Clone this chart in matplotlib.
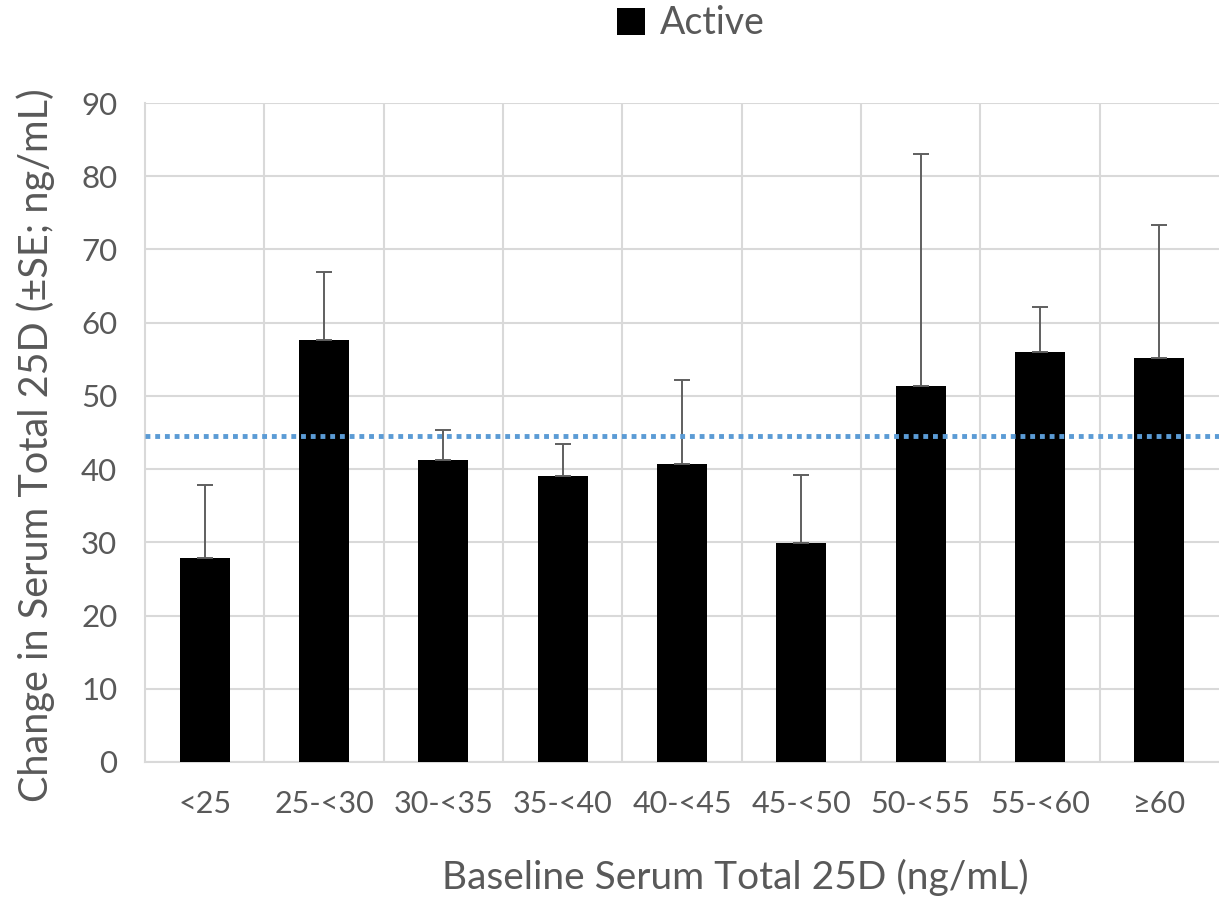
import numpy as np
import matplotlib
import matplotlib.pyplot as plt
import matplotlib.patches as mpatches

matplotlib.use("Agg")
plt.rcParams["font.family"] = ["Lato", "DejaVu Sans"]

# ── Data ─────────────────────────────────────────────────────────────────────
categories = ["<25", "25-<30", "30-<35", "35-<40", "40-<45",
              "45-<50", "50-<55", "55-<60", "≥60"]
means = [27.8, 57.7, 41.3, 39.1, 40.7, 29.9, 51.3, 56.0, 55.2]
upper = [37.8, 66.9, 45.4, 43.4, 52.2, 39.2, 83.0, 62.2, 73.4]
ref_line = 44.5

TEXT = "#595959"
GRID = "#d9d9d9"

fig = plt.figure(figsize=(12.19, 8.99), dpi=100)
ax = fig.add_axes([0.119, 0.1524, 0.881, 0.733])

x = np.arange(len(categories))
err = np.array(upper) - np.array(means)
ax.bar(x, means, width=0.42, color="black", zorder=3)
ax.errorbar(x, means, yerr=[np.zeros_like(err), err], fmt="none",
            ecolor="#5f5f5f", elinewidth=1.4, capsize=6, capthick=1.4, zorder=4)
ax.axhline(ref_line, color="#5b9bd5", linestyle=(0, (1, 1)), linewidth=3.5, zorder=5)

ax.set_xlim(-0.5, len(categories) - 0.5)
ax.set_ylim(0, 90)
ax.set_yticks(range(0, 91, 10))
ax.set_xticks(x)
ax.set_xticklabels(categories)
ax.set_xticks(np.arange(0.5, len(categories) - 0.5, 1), minor=True)
ax.grid(axis="y", color=GRID, linewidth=1.5, zorder=0)
ax.grid(axis="x", which="minor", color=GRID, linewidth=1.5, zorder=0)
ax.grid(axis="x", which="major", visible=False)
ax.tick_params(axis="x", which="both", length=0, colors=TEXT, labelsize=22, pad=20)
ax.tick_params(axis="y", which="both", length=0, colors=TEXT, labelsize=22.5, pad=20)
for s in ["top", "right"]:
    ax.spines[s].set_visible(False)
for s in ["left", "bottom"]:
    ax.spines[s].set_color(GRID)
    ax.spines[s].set_linewidth(1.5)

fig.text(0.603, 0.0245, "Baseline Serum Total 25D (ng/mL)", ha="center", va="center",
         fontsize=28, color=TEXT)
fig.text(0.029, 0.505, "Change in Serum Total 25D (±SE; ng/mL)", ha="center", va="center",
         rotation=90, fontsize=28.5, color=TEXT)

fig.legend(handles=[mpatches.Patch(facecolor="black", label="Active")],
           loc="center", bbox_to_anchor=(0.567, 0.974), frameon=False,
           fontsize=27, labelcolor=TEXT, handlelength=0.75, handleheight=0.75,
           handletextpad=0.4)

fig.savefig("out.png", dpi=100)
